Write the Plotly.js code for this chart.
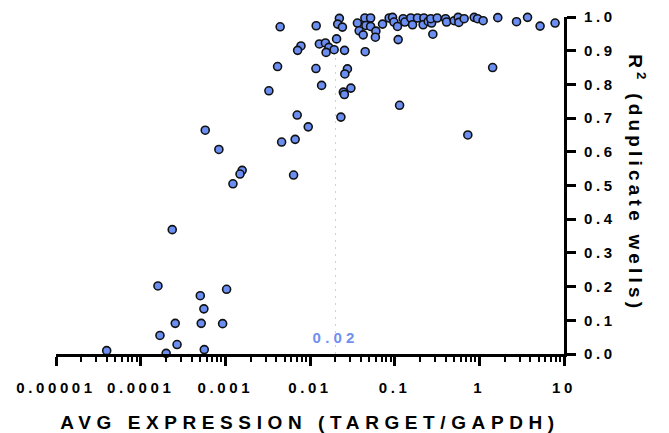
<!DOCTYPE html>
<html>
<head>
<meta charset="utf-8">
<script src="https://cdn.plot.ly/plotly-3.0.1.min.js"></script>
<style>
  html, body { margin: 0; padding: 0; background: #fff; }
  #chart { width: 669px; height: 433px; }
  .xtick text, .ytick text { letter-spacing: 3.6px; }
  .g-xtitle text { letter-spacing: 5.6px; }
  .annotation text { letter-spacing: 4.2px; }
</style>
</head>
<body>
<div id="chart"></div>
<script>
// AVG EXPRESSION (TARGET/GAPDH)
const expression = [
  3.97e-5, 2.36e-4, 1.60e-4, 1.035e-3, 5.06e-4, 5.58e-4, 2.56e-4, 5.19e-4, 9.29e-4, 1.69e-4,
  2.69e-4, 5.64e-4, 2.00e-4, 5.79e-4, 8.39e-4, 1.58e-3, 1.49e-3, 1.23e-3, 6.40e-3, 4.62e-3,
  6.68e-3, 7.06e-3, 9.53e-3, 3.27e-3, 4.14e-3, 4.44e-3, 0.01183, 7.82e-3, 7.14e-3, 0.01175,
  0.01371, 0.01291, 0.01521, 0.01671, 0.01549, 0.01928, 0.02558, 0.0206, 0.02223, 0.02123,
  0.02415, 0.02767, 0.0258, 0.0304, 0.02477, 0.02547, 0.02317, 0.04487, 0.0363, 0.0381,
  0.0445, 0.0457, 0.0520, 0.0520, 0.0425, 0.0600, 0.0592, 0.0719, 0.0861, 0.0944,
  0.098, 0.108, 0.110, 0.1143, 0.1259, 0.132, 0.155, 0.1626, 0.186, 0.2213,
  0.2168, 0.249, 0.273, 0.267, 0.318, 0.2825, 0.399, 0.410, 0.505, 0.562,
  0.573, 0.662, 0.731, 0.869, 0.953, 1.109, 1.436, 1.652, 2.75, 3.71,
  5.22, 7.85
];
// R^2 (duplicate wells)
const rSquared = [
  0.010, 0.369, 0.202, 0.192, 0.173, 0.134, 0.091, 0.091, 0.090, 0.055,
  0.028, 0.013, 0.002, 0.664, 0.607, 0.545, 0.534, 0.505, 0.531, 0.629,
  0.637, 0.709, 0.674, 0.781, 0.853, 0.971, 0.974, 0.914, 0.901, 0.847,
  0.797, 0.920, 0.923, 0.910, 0.895, 0.903, 0.901, 0.935, 0.996, 0.979,
  0.970, 0.846, 0.831, 0.789, 0.777, 0.770, 0.703, 0.897, 0.982, 0.959,
  0.997, 0.975, 0.997, 0.972, 0.947, 0.958, 0.940, 0.979, 0.997, 0.999,
  0.985, 0.972, 0.933, 0.738, 0.995, 0.985, 0.997, 0.977, 0.997, 0.997,
  0.977, 0.987, 0.982, 0.995, 0.997, 0.949, 0.995, 0.985, 0.989, 0.999,
  0.984, 0.995, 0.650, 0.999, 0.995, 0.989, 0.850, 0.998, 0.986, 0.999,
  0.973, 0.982
];

const cutoffX = [0.02, 0.02];
const cutoffY = [0, 0.885];
const cutoffLabel = "0.02";

const xTickVals = [1e-5, 1e-4, 1e-3, 1e-2, 1e-1, 1, 10];
const xTickText = ["0.00001", "0.0001", "0.001", "0.01", "0.1", "1", "10"];
const yTickVals = [0, 0.1, 0.2, 0.3, 0.4, 0.5, 0.6, 0.7, 0.8, 0.9, 1.0];
const yTickText = ["0.0", "0.1", "0.2", "0.3", "0.4", "0.5", "0.6", "0.7", "0.8", "0.9", "1.0"];

const xMinorVals = [];
for (let d = -5; d < 1; d++) {
  for (let m = 2; m <= 9; m++) xMinorVals.push(m * Math.pow(10, d));
}

const FONT = "Liberation Sans, Arial, Helvetica, sans-serif";

const traces = [
  {
    x: cutoffX, y: cutoffY, type: "scatter", mode: "lines",
    line: { color: "rgba(120,150,240,0.45)", width: 1, dash: "2px,5px" },
    hoverinfo: "skip", showlegend: false, cliponaxis: false
  },
  {
    x: expression, y: rSquared, type: "scatter", mode: "markers",
    marker: { size: 8, color: "#6b8ef2", line: { color: "#111111", width: 1.6 } },
    showlegend: false, cliponaxis: false
  }
];

const layout = {
  width: 669, height: 433,
  margin: { l: 56, r: 105, t: 17, b: 79 },
  paper_bgcolor: "#ffffff", plot_bgcolor: "#ffffff",
  showlegend: false,
  font: { family: FONT, color: "#000" },
  xaxis: {
    type: "log", range: [-5, 1],
    tickvals: xTickVals, ticktext: xTickText,
    ticks: "outside", ticklen: 9, tickwidth: 3, tickcolor: "#000",
    minor: { tickvals: xMinorVals, ticks: "outside", ticklen: 5, tickwidth: 2, tickcolor: "#000", showgrid: false },
    showline: true, linewidth: 3, linecolor: "#000", mirror: false,
    showgrid: false, zeroline: false,
    tickfont: { family: FONT, size: 15, weight: "bold", color: "#000" },
    ticklabelstandoff: 9,
    title: { text: "AVG EXPRESSION (TARGET/GAPDH)", font: { family: FONT, size: 19, weight: "bold", color: "#000" }, standoff: 22 },
    automargin: false, fixedrange: true
  },
  yaxis: {
    range: [0, 1], side: "right",
    tickvals: yTickVals, ticktext: yTickText,
    ticks: "outside", ticklen: 9, tickwidth: 3, tickcolor: "#000",
    showline: true, linewidth: 3, linecolor: "#000",
    showgrid: false, zeroline: false,
    tickfont: { family: FONT, size: 15, weight: "bold", color: "#000" },
    ticklabelstandoff: 5,
    automargin: false, fixedrange: true
  },
  annotations: [
    {
      text: "R<sup>2</sup> (duplicate wells)", textangle: 90,
      xref: "paper", yref: "paper", x: 1.1437, y: 0.507,
      xanchor: "center", yanchor: "middle", showarrow: false,
      font: { family: FONT, size: 19, weight: "bold", color: "#000" }
    },
    {
      text: cutoffLabel, xref: "x", yref: "y",
      x: Math.log10(cutoffX[0]), y: 0.05,
      xanchor: "center", yanchor: "middle", showarrow: false,
      font: { family: FONT, size: 15, weight: "bold", color: "#6f8ff0" }
    }
  ]
};

Plotly.newPlot("chart", traces, layout, { displayModeBar: false, staticPlot: true });
</script>
</body>
</html>
